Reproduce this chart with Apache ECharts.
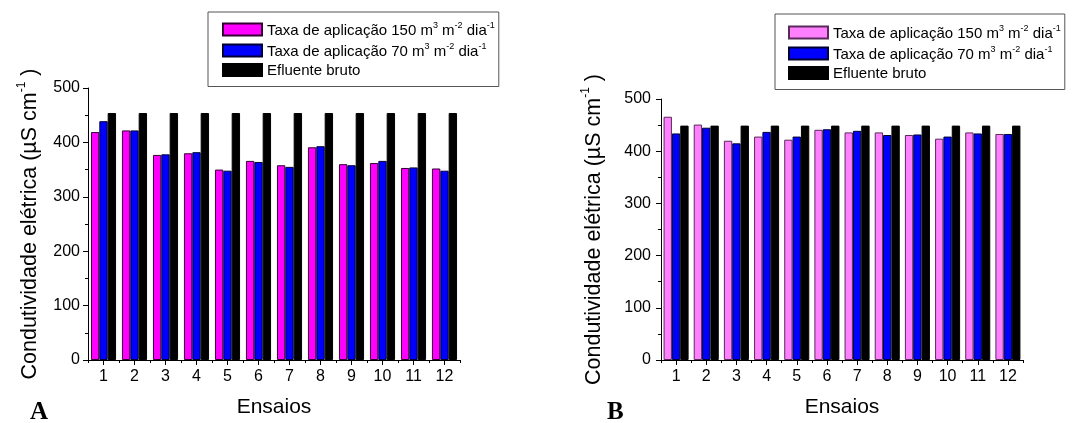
<!DOCTYPE html>
<html style="height: 100%">
<head>
    <meta charset="UTF-8">
    <title>Condutividade elétrica</title>
    <script type="text/javascript" src="https://cdn.jsdelivr.net/npm/echarts@6/dist/echarts.min.js"></script>
</head>
<body style="height: 100%; margin: 0; background: #fff">
    <div id="container" style="width: 1075px; height: 423px"></div>

    <script type="text/javascript">
        // ensaios 1..12
        var ensaios = ['1', '2', '3', '4', '5', '6', '7', '8', '9', '10', '11', '12'];
        var yTicks = [0, 100, 200, 300, 400, 500];

        // painel A
        var a150 = [419, 422, 377, 380, 350, 366, 358, 391, 360, 362, 353, 352];
        var a70 = [439, 422, 378, 382, 348, 364, 355, 393, 358, 366, 354, 348];
        var aBruto = [454, 454, 454, 454, 454, 454, 454, 454, 454, 454, 454, 454];

        // painel B
        var b150 = [466, 451, 420, 428, 422, 441, 436, 436, 431, 424, 436, 433];
        var b70 = [434, 445, 415, 437, 428, 442, 439, 431, 432, 428, 434, 433];
        var bBruto = [449, 449, 449, 449, 449, 449, 449, 449, 449, 449, 449, 449];

        var FONT = '"Liberation Sans", Arial, sans-serif';

        var legendText = {
            a150: '{t|Taxa de aplicação 150 m}{s|3}{t| m}{s|-2}{t| dia}{s|-1}',
            a70: '{t|Taxa de aplicação 70 m}{s|3}{t| m}{s|-2}{t| dia}{s|-1}',
            aBruto: '{t|Efluente bruto}'
        };
        legendText.b150 = legendText.a150;
        legendText.b70 = legendText.a70;
        legendText.bBruto = legendText.aBruto;

        var legendRich = {
            t: { fontSize: 15, fontFamily: FONT, color: '#000', lineHeight: 17, verticalAlign: 'bottom' },
            s: { fontSize: 9, fontFamily: FONT, color: '#000', lineHeight: 17, verticalAlign: 'top' }
        };

        function yName() {
            return '{t|Condutividade elétrica (µS cm}{s|-1}{t| )}';
        }
        var nameRich = {
            t: { fontSize: 21.5, fontFamily: FONT, color: '#000', lineHeight: 25, verticalAlign: 'bottom' },
            s: { fontSize: 12, fontFamily: FONT, color: '#000', lineHeight: 25, verticalAlign: 'top' }
        };

        function catAxis(gi) {
            return {
                type: 'category',
                gridIndex: gi,
                position: 'bottom',
                data: ensaios,
                name: 'Ensaios',
                nameLocation: 'middle',
                nameGap: 37,
                nameTextStyle: { fontSize: 21, fontFamily: FONT, color: '#000' },
                axisLine: { show: true, lineStyle: { color: '#000', width: 1 } },
                axisTick: { show: true, alignWithLabel: true, length: 5, lineStyle: { color: '#000' } },
                axisLabel: { fontSize: 16, fontFamily: FONT, color: '#000', margin: 9 }
            };
        }
        // second axis only to draw small ticks between the groups
        function boundAxis(gi) {
            return {
                type: 'category',
                gridIndex: gi,
                position: 'bottom',
                data: ensaios,
                axisLine: { show: false },
                axisTick: { show: true, length: 3, lineStyle: { color: '#000' } },
                axisLabel: { show: false }
            };
        }
        function valAxis(gi, gap, margin) {
            return {
                type: 'value',
                gridIndex: gi,
                min: yTicks[0],
                max: yTicks[yTicks.length - 1],
                interval: 100,
                name: yName(),
                nameLocation: 'middle',
                nameRotate: 90,
                nameGap: gap,
                nameTextStyle: { rich: nameRich },
                axisLine: { show: true, lineStyle: { color: '#000', width: 1 } },
                axisTick: { show: true, length: 5, lineStyle: { color: '#000' } },
                minorTick: { show: true, splitNumber: 2, length: 3, lineStyle: { color: '#000' } },
                splitLine: { show: false },
                axisLabel: { fontSize: 16, fontFamily: FONT, color: '#000', margin: margin }
            };
        }
        function bar(name, data, gi, color, border, catGap) {
            var s = {
                type: 'bar',
                name: name,
                xAxisIndex: gi * 2,
                yAxisIndex: gi,
                data: data,
                barGap: '0%',
                itemStyle: { color: color, borderColor: border, borderWidth: 1 }
            };
            if (catGap) s.barCategoryGap = catGap;
            return s;
        }
        function legend(left, top, names, pad) {
            return {
                orient: 'vertical',
                left: left,
                top: top,
                padding: pad,
                itemGap: 4,
                itemWidth: 39,
                itemHeight: 12,
                icon: 'rect',
                borderColor: '#555',
                borderWidth: 1,
                data: names,
                selectedMode: false,
                formatter: function (n) { return legendText[n]; },
                textStyle: { rich: legendRich }
            };
        }

        var myChart = echarts.init(document.getElementById('container'));
        var option = {
            animation: false,
            backgroundColor: '#fff',
            title: [
                { text: 'A', left: 30, top: 400, padding: 0,
                  textStyle: { fontFamily: '"Liberation Serif", serif', fontWeight: 'bold', fontSize: 25, color: '#000' } },
                { text: 'B', left: 607, top: 400, padding: 0,
                  textStyle: { fontFamily: '"Liberation Serif", serif', fontWeight: 'bold', fontSize: 25, color: '#000' } }
            ],
            legend: [
                legend(208, 12, ['a150', 'a70', 'aBruto'], [9, 4, 8, 14]),
                legend(775, 14, ['b150', 'b70', 'bBruto'], [10, 4, 8, 13])
            ],
            grid: [
                { left: 88, top: 88, width: 372, height: 275 },
                { left: 661, top: 99, width: 362, height: 267 }
            ],
            xAxis: [catAxis(0), boundAxis(0), catAxis(1), boundAxis(1)],
            yAxis: [valAxis(0, 47, 8), valAxis(1, 56, 10)],
            series: [
                bar('a150', a150, 0, '#ff00ff', '#330033', '19%'),
                bar('a70', a70, 0, '#0000ff', '#000033'),
                bar('aBruto', aBruto, 0, '#000000', '#000000'),
                bar('b150', b150, 1, '#ff80ff', '#5a2a5a', '17%'),
                bar('b70', b70, 1, '#0000ff', '#000033'),
                bar('bBruto', bBruto, 1, '#000000', '#000000')
            ]
        };
        myChart.setOption(option);
    </script>
</body>
</html>
